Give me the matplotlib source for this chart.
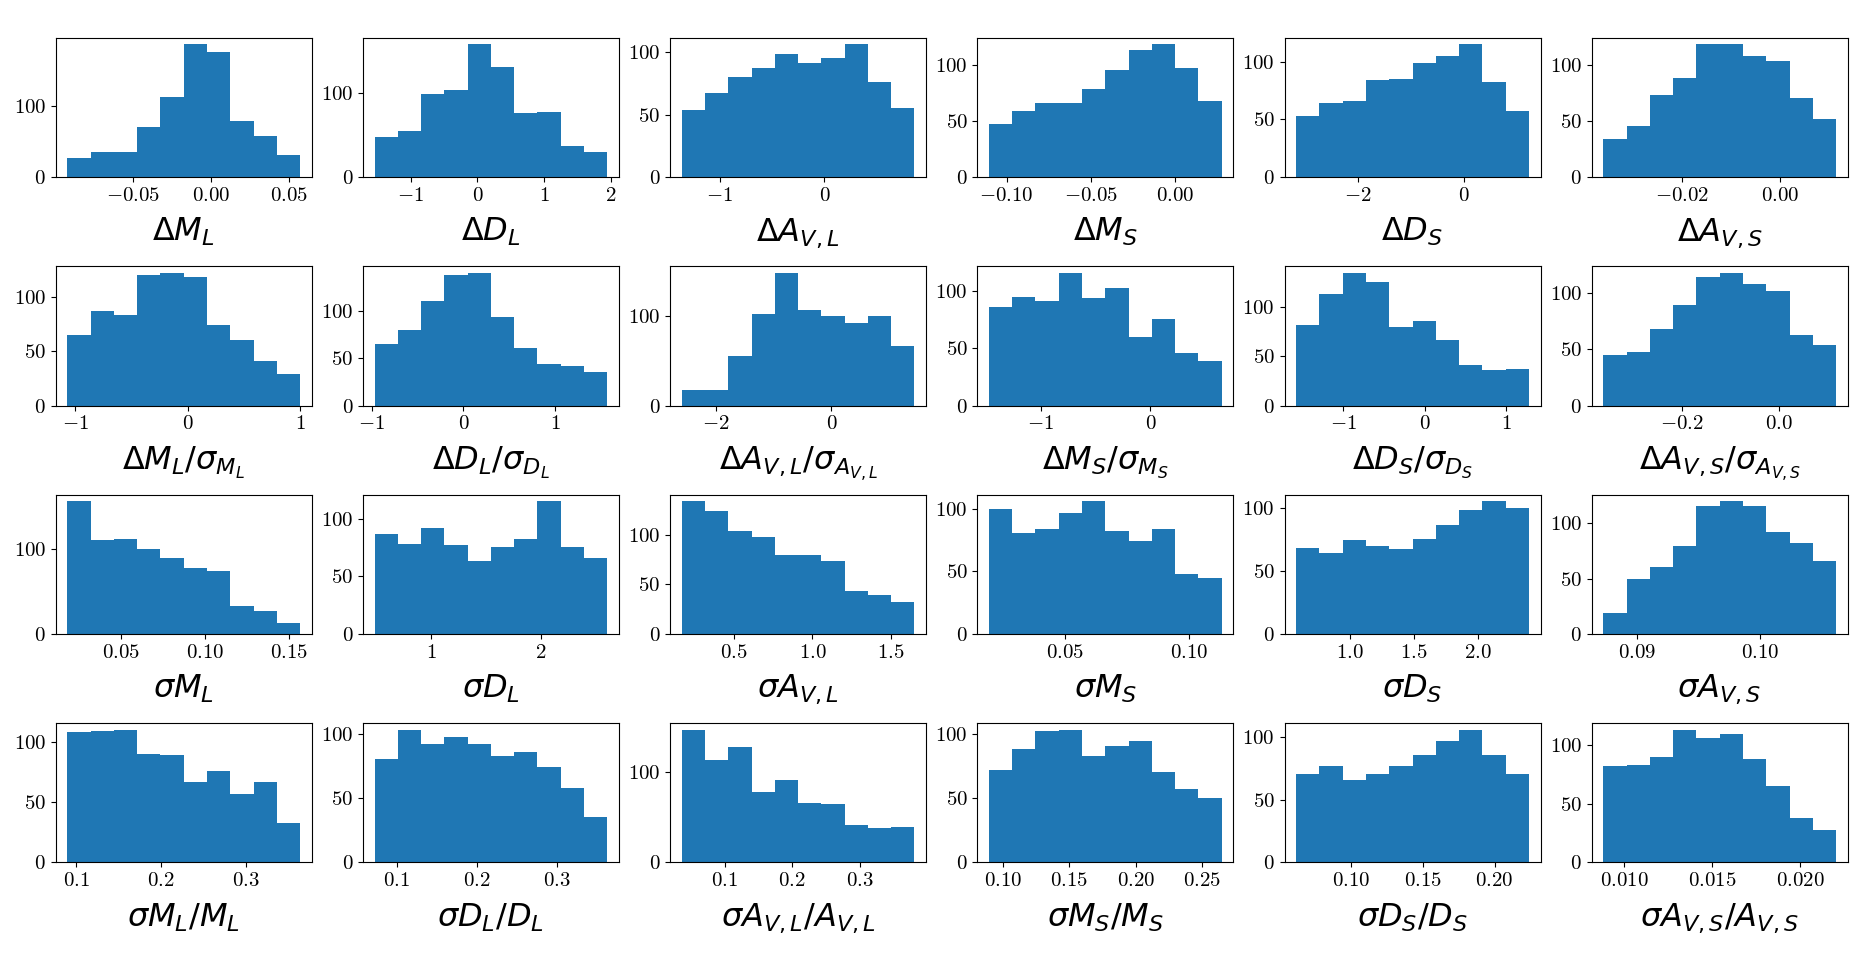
import matplotlib
matplotlib.use("Agg")
import matplotlib.pyplot as plt
import numpy as np

# ── style ──────────────────────────────────────────────────────────────────
plt.rcParams.update({
    "font.family": "cmr10",
    "mathtext.fontset": "cm",
    "axes.formatter.use_mathtext": True,
    "xtick.labelsize": 15,
    "ytick.labelsize": 15,
})

# ── data: 24 histograms, 10 bins each ──────────────────────────────────────
labels = [
    r"$\Delta M_L$", r"$\Delta D_L$", r"$\Delta A_{V,L}$",
    r"$\Delta M_S$", r"$\Delta D_S$", r"$\Delta A_{V,S}$",
    r"$\Delta M_L/\sigma_{M_L}$", r"$\Delta D_L/\sigma_{D_L}$", r"$\Delta A_{V,L}/\sigma_{A_{V,L}}$",
    r"$\Delta M_S/\sigma_{M_S}$", r"$\Delta D_S/\sigma_{D_S}$", r"$\Delta A_{V,S}/\sigma_{A_{V,S}}$",
    r"$\sigma M_L$", r"$\sigma D_L$", r"$\sigma A_{V,L}$",
    r"$\sigma M_S$", r"$\sigma D_S$", r"$\sigma A_{V,S}$",
    r"$\sigma M_L/M_L$", r"$\sigma D_L/D_L$", r"$\sigma A_{V,L}/A_{V,L}$",
    r"$\sigma M_S/M_S$", r"$\sigma D_S/D_S$", r"$\sigma A_{V,S}/A_{V,S}$",
]

bin_lo = [-0.0917, -1.54, -1.365, -0.1105, -3.17, -0.0359,
          -1.07, -0.97, -2.59, -1.47, -1.58, -0.361,
          0.018, 0.486, 0.169, 0.019, 0.576, 0.0873,
          0.0896, 0.0723, 0.0361, 0.0893, 0.0621, 0.00882]
bin_hi = [0.057, 1.945, 0.863, 0.028, 1.22, 0.0114,
          1.0, 1.57, 1.44, 0.65, 1.28, 0.1175,
          0.1567, 2.605, 1.649, 0.1134, 2.397, 0.1062,
          0.364, 0.3634, 0.3815, 0.2648, 0.2239, 0.02203]

counts = [
    [27, 35, 35, 70, 112, 186, 176, 79, 58, 31],
    [47, 55, 98, 103, 157, 130, 76, 77, 37, 30],
    [54, 67, 80, 87, 98, 91, 95, 106, 76, 55],
    [47, 59, 66, 66, 78, 95, 113, 118, 97, 68],
    [53, 64, 66, 84, 85, 99, 105, 115, 82, 57],
    [34, 45, 73, 88, 118, 118, 108, 103, 70, 52],
    [65, 87, 83, 120, 122, 118, 74, 60, 41, 29],
    [65, 80, 110, 138, 140, 93, 61, 44, 42, 35],
    [17, 17, 56, 103, 149, 107, 100, 93, 100, 67],
    [86, 95, 91, 116, 94, 103, 60, 76, 46, 39],
    [82, 113, 135, 126, 80, 86, 67, 41, 36, 37],
    [45, 48, 68, 89, 114, 118, 108, 102, 63, 54],
    [157, 111, 112, 100, 90, 78, 74, 33, 27, 13],
    [87, 78, 92, 77, 63, 75, 82, 115, 75, 66],
    [134, 124, 104, 98, 80, 80, 74, 43, 39, 32],
    [100, 81, 84, 97, 106, 82, 74, 84, 48, 45],
    [68, 64, 74, 70, 67, 75, 86, 98, 105, 100],
    [19, 50, 61, 80, 116, 120, 116, 92, 82, 66],
    [108, 109, 110, 90, 89, 67, 76, 57, 67, 33],
    [80, 103, 92, 97, 92, 83, 86, 74, 58, 35],
    [146, 113, 127, 77, 91, 65, 64, 41, 38, 39],
    [72, 88, 102, 103, 83, 90, 94, 70, 57, 50],
    [71, 77, 66, 71, 77, 86, 97, 106, 86, 71],
    [82, 83, 90, 113, 106, 109, 88, 65, 38, 28],
]

xticks = [
    [-0.05, 0.0, 0.05], [-1, 0, 1, 2], [-1, 0],
    [-0.10, -0.05, 0.0], [-2, 0], [-0.02, 0.0],
    [-1, 0, 1], [-1, 0, 1], [-2, 0],
    [-1, 0], [-1, 0, 1], [-0.2, 0.0],
    [0.05, 0.10, 0.15], [1, 2], [0.5, 1.0, 1.5],
    [0.05, 0.10], [1.0, 1.5, 2.0], [0.09, 0.10],
    [0.1, 0.2, 0.3], [0.1, 0.2, 0.3], [0.1, 0.2, 0.3],
    [0.10, 0.15, 0.20, 0.25], [0.10, 0.15, 0.20], [0.010, 0.015, 0.020],
]

# ── figure ─────────────────────────────────────────────────────────────────
fig, axes = plt.subplots(4, 6, figsize=(18.57, 9.69), dpi=100)
fig.subplots_adjust(left=0.030, right=0.995, top=0.961, bottom=0.110,
                    wspace=0.20, hspace=0.64)

for i, ax in enumerate(axes.flat):
    edges = np.linspace(bin_lo[i], bin_hi[i], len(counts[i]) + 1)
    ax.hist(edges[:-1], bins=edges, weights=counts[i], color="C0")
    ax.set_xticks(xticks[i])
    ax.set_xlabel(labels[i], fontsize=23, labelpad=8,
                  math_fontfamily="dejavusans")

fig.savefig("out.png", dpi=100)
